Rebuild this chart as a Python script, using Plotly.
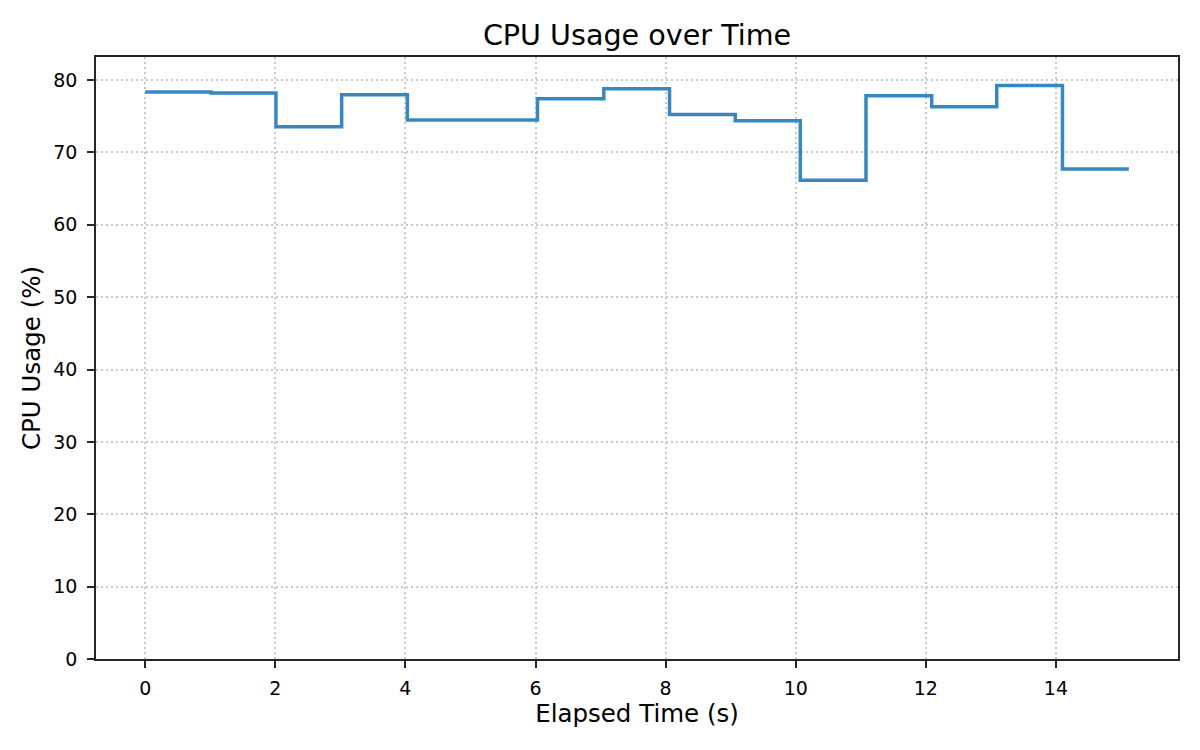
import plotly.graph_objects as go

times = [0, 1.01, 2.01, 3.02, 4.03, 5.04, 6.03, 7.05, 8.06, 9.07, 10.07, 11.08, 12.09, 13.09, 14.10, 15.12]
cpu = [78.34, 78.22, 73.54, 77.97, 74.46, 74.46, 77.40, 78.78, 75.22, 74.37, 66.14, 77.83, 76.30, 79.25, 67.70, 67.70]
x_ticks = [0, 2, 4, 6, 8, 10, 12, 14]
y_ticks = [0, 10, 20, 30, 40, 50, 60, 70, 80]

FONT = "DejaVu Sans"
INK = "#262626"

fig = go.Figure()
fig.add_trace(go.Scatter(
    x=times, y=cpu, mode="lines",
    line=dict(color="#3787c0", width=3.5, shape="hv"),
    showlegend=False,
))

axis_common = dict(
    showline=True, linecolor=INK, linewidth=1.7, mirror=True,
    ticks="outside", ticklen=7, tickwidth=1.7, tickcolor=INK,
    showgrid=True, gridcolor="#c9c9c9", gridwidth=1.6, griddash="2px,3px",
    zeroline=False,
    tickfont=dict(family=FONT, size=19, color="black"),
)

fig.update_layout(
    width=1200, height=750,
    paper_bgcolor="white", plot_bgcolor="white",
    margin=dict(l=96, r=22, t=57, b=91),
    font=dict(family=FONT, color="black"),
    title=dict(text="CPU Usage over Time", x=(96 + 1178) / 2 / 1200, xanchor="center",
               y=1 - 35 / 750, yanchor="middle", yref="container",
               font=dict(family=FONT, size=28.6, color="black")),
    xaxis=dict(range=[-0.756, 15.876], tickvals=x_ticks, ticktext=[str(v) for v in x_ticks],
               title=dict(text="Elapsed Time (s)", font=dict(family=FONT, size=24.5, color="black"), standoff=7),
               ticklabelstandoff=4, **axis_common),
    yaxis=dict(range=[0, 83.18], tickvals=y_ticks, ticktext=[str(v) for v in y_ticks],
               title=dict(text="CPU Usage (%)", font=dict(family=FONT, size=24.5, color="black"), standoff=6),
               ticklabelstandoff=6, **axis_common),
)

fig.write_html("out.html", config={"displayModeBar": False},
               post_script="document.body.style.margin='0';")
